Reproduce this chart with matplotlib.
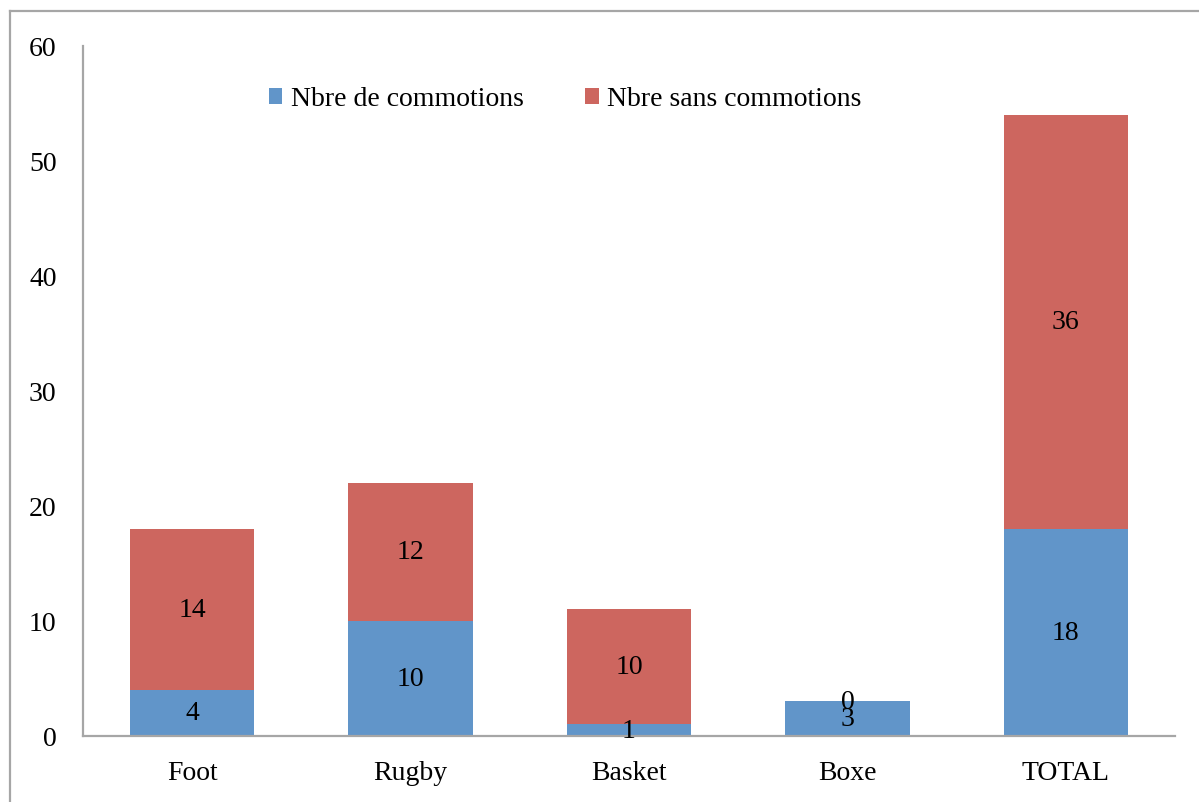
import matplotlib.pyplot as plt
from matplotlib.lines import Line2D

# données
sports = ["Foot", "Rugby", "Basket", "Boxe", "TOTAL"]
avec_commotions = [4, 10, 1, 3, 18]
sans_commotions = [14, 12, 10, 0, 36]
series_labels = ["Nbre de commotions", "Nbre sans commotions"]

bleu = "#6195C9"
rouge = "#CD665F"
gris = "#A6A6A6"

plt.rcParams['font.family'] = ['Liberation Serif', 'DejaVu Serif']
fs = 20

fig = plt.figure(figsize=(11.99, 8.03), dpi=100)
ax = fig.add_axes([0.0692, 0.0822, 0.9108, 0.8593])

x = list(range(len(sports)))
ax.bar(x, avec_commotions, width=0.57, color=bleu, label=series_labels[0])
ax.bar(x, sans_commotions, width=0.57, bottom=avec_commotions,
       color=rouge, label=series_labels[1])

# étiquettes de données au centre des segments
for i in x:
    ax.text(i, avec_commotions[i] / 2, str(avec_commotions[i]),
            ha="center", va="center", fontsize=fs)
    ax.text(i, avec_commotions[i] + sans_commotions[i] / 2, str(sans_commotions[i]),
            ha="center", va="center", fontsize=fs)

ax.set_xlim(-0.5, 4.5)
ax.set_ylim(0, 60)
ax.set_yticks(range(0, 61, 10))
ax.set_xticks(x)
ax.set_xticklabels(sports)
ax.tick_params(axis="both", length=0, labelsize=fs)
ax.tick_params(axis="y", pad=19)
ax.tick_params(axis="x", pad=17)

for s in ["top", "right"]:
    ax.spines[s].set_visible(False)
for s in ["left", "bottom"]:
    ax.spines[s].set_color(gris)
    ax.spines[s].set_linewidth(1.6)

ax.legend(loc="center", bbox_to_anchor=(565 / 1199, 1 - 100 / 803),
          bbox_transform=fig.transFigure,
          ncol=2, frameon=False, fontsize=fs, handlelength=0.5, handleheight=0.5,
          handletextpad=0.3, columnspacing=2.2)

# cadre du graphique (haut et gauche)
fig.add_artist(Line2D([10 / 1199, 1.0], [1 - 12 / 803, 1 - 12 / 803],
                      transform=fig.transFigure, color=gris, lw=1.6))
fig.add_artist(Line2D([10 / 1199, 10 / 1199], [0.0, 1 - 12 / 803],
                      transform=fig.transFigure, color=gris, lw=1.6))

fig.savefig("out.png", dpi=100)
